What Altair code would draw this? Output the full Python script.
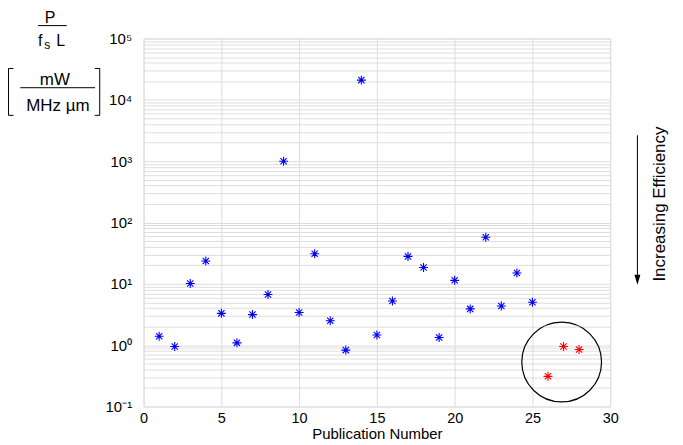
import altair as alt
import pandas as pd

# ---------------- data ----------------
publication = list(range(1, 29))
power_ratio = [1.40, 0.95, 10.1, 23.5, 3.3, 1.09, 3.15, 6.7, 1000, 3.4,
               31, 2.5, 0.83, 21000, 1.46, 5.25, 28, 18.5, 1.33, 11.4,
               3.9, 57.5, 4.36, 15, 5.0, 0.31, 0.95, 0.85]
group = ["Published"] * 25 + ["Highlighted"] * 3

x_ticks = [0, 5, 10, 15, 20, 25, 30]
y_tick_labels = ["10\u207b\u00b9", "10\u2070", "10\u00b9", "10\u00b2",
                 "10\u00b3", "10\u2074", "10\u2075"]
circle_pub = [26.88]
circle_ratio = [0.53]

FONT = "Liberation Sans"
W, H = 468, 369

df = pd.DataFrame({"pub": publication, "ratio": power_ratio, "group": group})
circle_df = pd.DataFrame({"pub": circle_pub, "ratio": circle_ratio})
one = pd.DataFrame({"k": [0]})

y_grid_values = [m * 10.0 ** e for e in range(-1, 5) for m in range(1, 10)] + [1e5]
labels_js = "[" + ",".join(f"'{s}'" for s in y_tick_labels) + "]"
label_expr = (
    "abs(log(datum.value)/LN10 - round(log(datum.value)/LN10)) > 0.001 ? '' : "
    f"{labels_js}[round(log(datum.value)/LN10) + 1]"
)

xscale = alt.Scale(domain=[0, 30], nice=False, zero=False)
yscale = alt.Scale(type="log", domain=[0.1, 1e5], nice=False)

x_axis = alt.Axis(values=x_ticks, grid=True, ticks=False, domain=False,
                  labelFontSize=14.5, labelPadding=5, labelFlush=False,
                  title="Publication Number", titleFontSize=15,
                  titleFontWeight="normal", titlePadding=2)
y_axis = alt.Axis(values=y_grid_values, labelExpr=label_expr, grid=True,
                  ticks=False, domain=False, labelFontSize=15, labelPadding=12,
                  labelOverlap=False, labelFlush=False, title=None)

ASTERISK = "M-1,0L1,0M0,-1L0,1M-0.7,-0.7L0.7,0.7M-0.7,0.7L0.7,-0.7"

points = alt.Chart(df).mark_point(
    shape=ASTERISK, filled=False, size=81, strokeWidth=1.1, opacity=1
).encode(
    x=alt.X("pub:Q", scale=xscale, axis=x_axis),
    y=alt.Y("ratio:Q", scale=yscale, axis=y_axis),
    color=alt.Color("group:N",
                    scale=alt.Scale(domain=["Published", "Highlighted"],
                                    range=["#0000ff", "#ff0000"]),
                    legend=None),
)

circle = alt.Chart(circle_df).mark_point(
    shape="circle", filled=False, size=6400, stroke="black",
    strokeWidth=1.2, opacity=1
).encode(
    x=alt.X("pub:Q", scale=xscale, axis=x_axis),
    y=alt.Y("ratio:Q", scale=yscale, axis=y_axis),
)


def txt(s, x, y, size=16, align="center", baseline="alphabetic", angle=0):
    kw = dict(font=FONT, fontSize=size, align=align, baseline=baseline, color="black")
    if angle:
        kw["angle"] = angle
    return alt.Chart(one).mark_text(**kw).encode(
        x=alt.value(x), y=alt.value(y), text=alt.value(s))


def hline(x1, x2, y, w=1):
    return alt.Chart(one).mark_rule(color="black", strokeWidth=w).encode(
        x=alt.value(x1), x2=alt.value(x2), y=alt.value(y))


def vline(x, y1, y2, w=1):
    return alt.Chart(one).mark_rule(color="black", strokeWidth=w).encode(
        x=alt.value(x), y=alt.value(y1), y2=alt.value(y2))


ylabel = [
    txt("P", -93.7, -16, size=16),
    hline(-106, -77, -13),
    txt("f", -106, 7, size=16, align="left"),
    txt("s", -99.7, 10.5, size=12, align="left"),
    txt("L", -87.7, 7, size=16, align="left"),
    vline(-135.5, 30, 77), hline(-135.5, -130.5, 30), hline(-135.5, -130.5, 77),
    vline(-44, 30, 77), hline(-49, -44, 30), hline(-49, -44, 77),
    txt("mW", -89, 47, size=17),
    hline(-123.7, -48.7, 49.3),
    txt("MHz  \u00b5m", -86, 73, size=17),
]

arrow = [
    vline(495.3, 97, 240),
    alt.Chart(one).mark_point(shape="M-0.6,-1L0.6,-1L0,1Z", filled=True,
                              size=100, color="black", opacity=1).encode(
        x=alt.value(495.3), y=alt.value(242)),
    txt("Increasing Efficiency", 518, 166, size=17, baseline="middle", angle=270),
]

chart = alt.layer(points, circle, *ylabel, *arrow).properties(
    width=W, height=H,
    autosize=alt.AutoSizeParams(type="none"),
    padding={"left": 136, "top": 30, "right": 65, "bottom": 37},
).configure_view(
    stroke="black", strokeWidth=1
).configure_axis(
    labelFont=FONT, titleFont=FONT, labelColor="black", titleColor="black",
    gridColor="#000000", gridDash=[1, 2], gridOpacity=0.65, gridWidth=1,
).configure(background="white")

chart.save("out.html", embed_options={"renderer": "svg", "actions": False})
